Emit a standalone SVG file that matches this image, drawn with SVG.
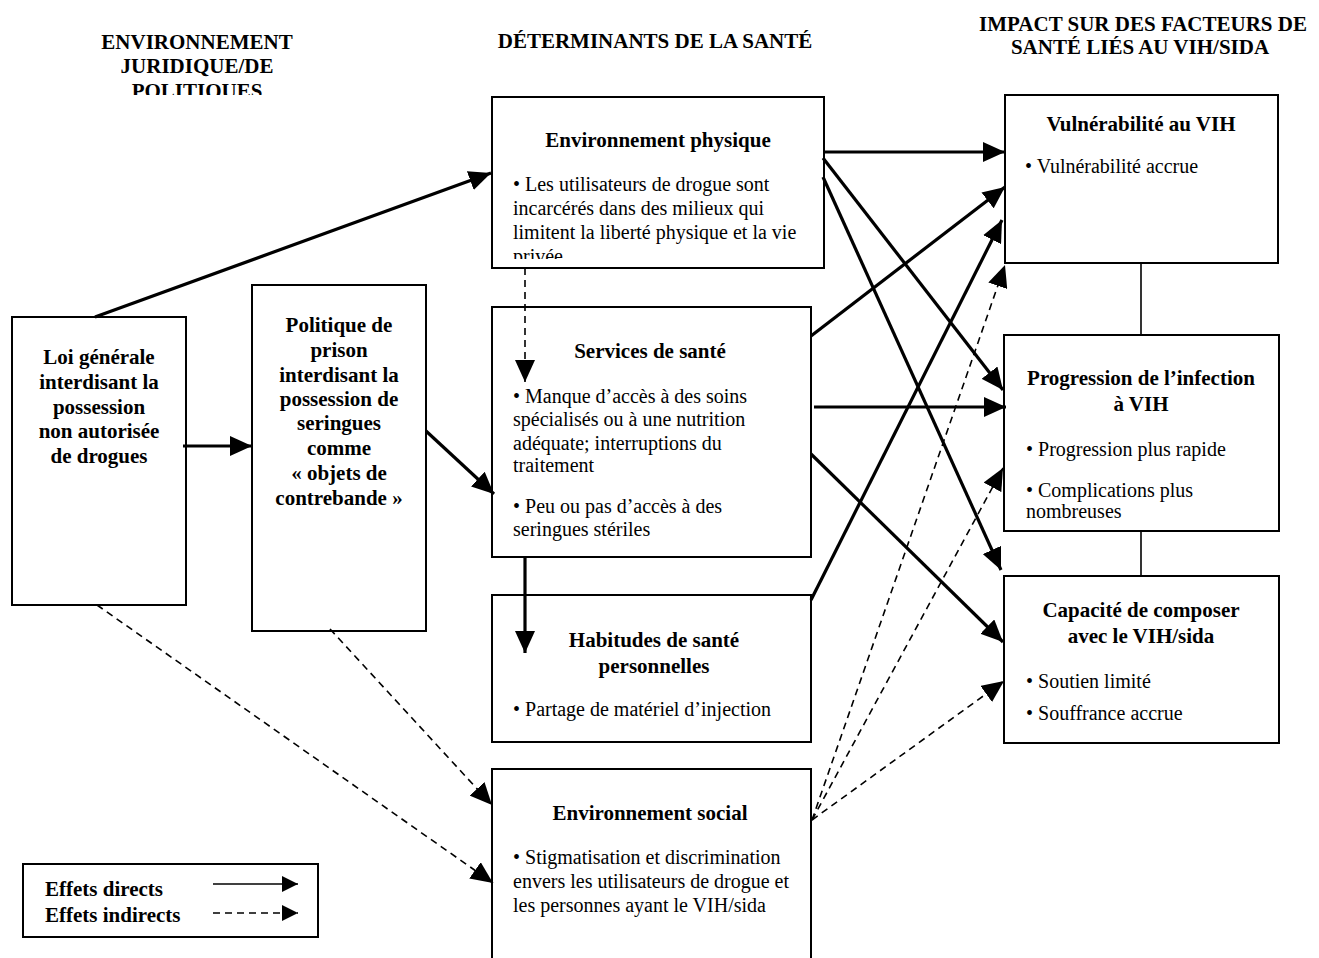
<svg xmlns="http://www.w3.org/2000/svg" width="1319" height="958" viewBox="0 0 1319 958">
<style>
text{font-family:"Liberation Serif","Times New Roman",serif;fill:#000}
.h{font-size:21px;font-weight:bold;text-anchor:middle}
.t{font-size:21px;font-weight:bold;text-anchor:middle}
.b{font-size:20px}
.lg{font-size:21px;font-weight:bold}
.box{fill:#fff;stroke:#000;stroke-width:2}
.s{stroke:#000;stroke-width:3.2;fill:none}
.d{stroke:#000;stroke-width:1.6;fill:none;stroke-dasharray:7,5}
.ln{stroke:#000;stroke-width:1.6;fill:none}
</style>
<defs>
<marker id="ah" markerUnits="userSpaceOnUse" markerWidth="24" markerHeight="20" refX="22" refY="10" orient="auto"><path d="M0,0 L22,10 L0,20 z" fill="#000"/></marker>
<marker id="ahs" markerUnits="userSpaceOnUse" markerWidth="18" markerHeight="16" refX="16" refY="8" orient="auto"><path d="M0,0 L16,8 L0,16 z" fill="#000"/></marker>
<clipPath id="cpHead"><rect x="0" y="0" width="440" height="95"/></clipPath>
<clipPath id="cpPhys"><rect x="492" y="97" width="332" height="162"/></clipPath>
</defs>
<rect width="1319" height="958" fill="#fff"/>

<g id="headers">
<g clip-path="url(#cpHead)">
<text class="h" x="197" y="49">ENVIRONNEMENT</text>
<text class="h" x="197" y="73">JURIDIQUE/DE</text>
<text class="h" x="197" y="98">POLITIQUES</text>
</g>
<text class="h" x="655" y="48">DÉTERMINANTS DE LA SANTÉ</text>
<text class="h" x="1143" y="31">IMPACT SUR DES FACTEURS DE</text>
<text class="h" x="1140" y="54">SANTÉ LIÉS AU VIH/SIDA</text>
</g>

<g id="loi">
<rect class="box" x="12" y="317" width="174" height="288"/>
<text class="t" x="99" y="364">Loi générale</text>
<text class="t" x="99" y="389">interdisant la</text>
<text class="t" x="99" y="414">possession</text>
<text class="t" x="99" y="438">non autorisée</text>
<text class="t" x="99" y="463">de drogues</text>
</g>

<g id="politique">
<rect class="box" x="252" y="285" width="174" height="346"/>
<text class="t" x="339" y="332">Politique de</text>
<text class="t" x="339" y="357">prison</text>
<text class="t" x="339" y="382">interdisant la</text>
<text class="t" x="339" y="406">possession de</text>
<text class="t" x="339" y="430">seringues</text>
<text class="t" x="339" y="455">comme</text>
<text class="t" x="339" y="480">« objets de</text>
<text class="t" x="339" y="505">contrebande  »</text>
</g>

<g id="env-physique">
<rect class="box" x="492" y="97" width="332" height="171"/>
<text class="t" x="658" y="147">Environnement physique</text>
<g clip-path="url(#cpPhys)">
<text class="b" x="513" y="191">• Les utilisateurs de drogue sont</text>
<text class="b" x="513" y="215">incarcérés dans des milieux qui</text>
<text class="b" x="513" y="239">limitent la liberté physique et la vie</text>
<text class="b" x="513" y="263">privée</text>
</g>
</g>

<g id="services">
<rect class="box" x="492" y="307" width="319" height="250"/>
<text class="t" x="650" y="358">Services de santé</text>
<text class="b" x="513" y="403">• Manque d’accès à des soins</text>
<text class="b" x="513" y="426">spécialisés ou à une nutrition</text>
<text class="b" x="513" y="450">adéquate; interruptions du</text>
<text class="b" x="513" y="472">traitement</text>
<text class="b" x="513" y="513">• Peu ou pas d’accès à des</text>
<text class="b" x="513" y="536">seringues stériles</text>
</g>

<g id="habitudes">
<rect class="box" x="492" y="595" width="319" height="147"/>
<text class="t" x="654" y="647">Habitudes de santé</text>
<text class="t" x="654" y="673">personnelles</text>
<text class="b" x="513" y="716">• Partage de matériel d’injection</text>
</g>

<g id="env-social">
<rect class="box" x="492" y="769" width="319" height="190"/>
<text class="t" x="650" y="820">Environnement social</text>
<text class="b" x="513" y="864">• Stigmatisation et discrimination</text>
<text class="b" x="513" y="888">envers les utilisateurs de drogue et</text>
<text class="b" x="513" y="912">les personnes ayant le VIH/sida</text>
</g>

<g id="vulnerabilite">
<rect class="box" x="1005" y="95" width="273" height="168"/>
<text class="t" x="1141" y="131">Vulnérabilité au VIH</text>
<text class="b" x="1025" y="173">• Vulnérabilité accrue</text>
</g>

<g id="progression">
<rect class="box" x="1004" y="335" width="275" height="196"/>
<text class="t" x="1141" y="385">Progression de l’infection</text>
<text class="t" x="1141" y="411">à VIH</text>
<text class="b" x="1026" y="456">• Progression plus rapide</text>
<text class="b" x="1026" y="497">• Complications plus</text>
<text class="b" x="1026" y="518">nombreuses</text>
</g>

<g id="capacite">
<rect class="box" x="1004" y="576" width="275" height="167"/>
<text class="t" x="1141" y="617">Capacité de composer</text>
<text class="t" x="1141" y="643">avec le VIH/sida</text>
<text class="b" x="1026" y="688">• Soutien limité</text>
<text class="b" x="1026" y="720">• Souffrance accrue</text>
</g>

<g id="connectors">
<line class="s" x1="95" y1="317" x2="491" y2="173" marker-end="url(#ah)"/>
<line class="s" x1="183" y1="446" x2="252" y2="446" marker-end="url(#ah)"/>
<line class="s" x1="426" y1="431" x2="494" y2="494" marker-end="url(#ah)"/>
<line class="d" x1="525" y1="268" x2="525" y2="382" marker-end="url(#ah)"/>
<line class="s" x1="525" y1="557" x2="525" y2="653" marker-end="url(#ah)"/>
<line class="s" x1="824" y1="152" x2="1005" y2="152" marker-end="url(#ah)"/>
<line class="s" x1="823" y1="158" x2="1003" y2="390" marker-end="url(#ah)"/>
<line class="s" x1="823" y1="177" x2="1001" y2="570" marker-end="url(#ah)"/>
<line class="s" x1="811" y1="336" x2="1005" y2="187" marker-end="url(#ah)"/>
<line class="s" x1="814" y1="407" x2="1006" y2="407" marker-end="url(#ah)"/>
<line class="s" x1="811" y1="454" x2="1003" y2="642" marker-end="url(#ah)"/>
<line class="s" x1="811" y1="600" x2="1002" y2="220" marker-end="url(#ah)"/>
<line class="d" x1="812" y1="820" x2="1005" y2="265" marker-end="url(#ah)"/>
<line class="d" x1="812" y1="820" x2="1003" y2="468" marker-end="url(#ah)"/>
<line class="d" x1="812" y1="820" x2="1004" y2="681" marker-end="url(#ah)"/>
<line class="d" x1="97" y1="605" x2="493" y2="883" marker-end="url(#ah)"/>
<line class="d" x1="330" y1="629" x2="492" y2="805" marker-end="url(#ah)"/>
<line class="ln" x1="1141" y1="263" x2="1141" y2="335"/>
<line class="ln" x1="1141" y1="531" x2="1141" y2="576"/>
</g>

<g id="legend">
<rect class="box" x="23" y="864" width="295" height="73"/>
<text class="lg" x="45" y="896">Effets directs</text>
<text class="lg" x="45" y="922">Effets indirects</text>
<line class="ln" x1="213" y1="884" x2="298" y2="884" stroke-width="2" marker-end="url(#ahs)"/>
<line class="d" x1="213" y1="913" x2="298" y2="913" marker-end="url(#ahs)"/>
</g>
</svg>
